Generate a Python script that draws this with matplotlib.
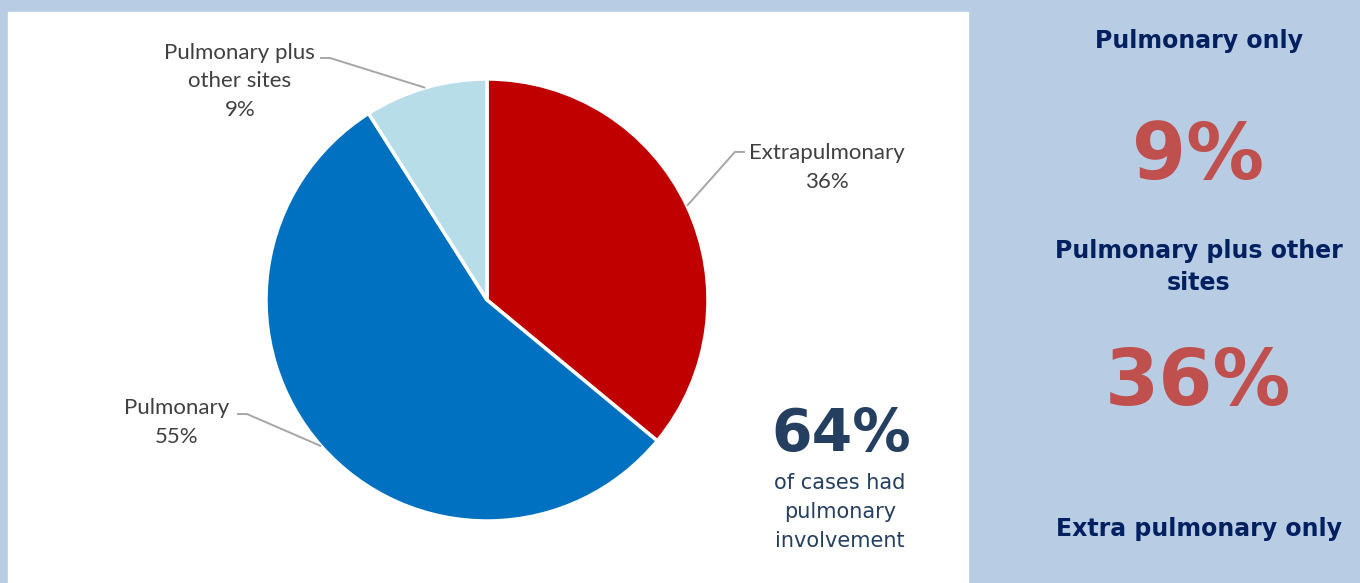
import numpy as np
import matplotlib.pyplot as plt
from matplotlib.patches import Rectangle

# pie data
labels = ["Extrapulmonary", "Pulmonary", "Pulmonary plus\nother sites"]
shares = [36, 55, 9]
colors = ["#C00000", "#0070C0", "#B7DDE8"]

# side panel texts
side_titles = ["Pulmonary only", "Pulmonary plus other\nsites", "Extra pulmonary only"]
side_values = ["9%", "36%"]
headline = "64%"
headline_note = "of cases had\npulmonary\ninvolvement"

W, H = 1360, 583
fig = plt.figure(figsize=(W / 100, H / 100), dpi=100)
fig.patch.set_facecolor("#B8CCE4")

# pixel-coordinate overlay for backgrounds and free text
bg = fig.add_axes([0, 0, 1, 1])
bg.set_xlim(0, W)
bg.set_ylim(H, 0)
bg.axis("off")
bg.add_patch(Rectangle((8, 12), 960, H - 12, color="white", zorder=0))

# PIE
ax = fig.add_axes([266 / W, (H - 521) / H, 442 / W, 442 / H])
wedges, _ = ax.pie(shares, colors=colors, startangle=90, counterclock=False,
                   radius=1, wedgeprops=dict(edgecolor="white", linewidth=2.5))
ax.set_xlim(-1, 1)
ax.set_ylim(-1, 1)

# label layout (axes units, radius = 1)
elbows = [(1.122, 0.670), (-1.086, -0.516), (-0.710, 1.095)]
text_pos = [(1.538, 0.600), (-1.403, -0.556), (-1.118, 0.989)]

for w, lab, s, el, tp in zip(wedges, labels, shares, elbows, text_pos):
    mid = np.deg2rad((w.theta1 + w.theta2) / 2)
    px, py = np.cos(mid), np.sin(mid)
    end_x = el[0] + 0.045 * np.sign(el[0])
    ax.plot([px, el[0], end_x], [py, el[1], el[1]], color="#A6A6A6",
            lw=1.4, clip_on=False, solid_capstyle="butt")
    ax.text(tp[0], tp[1], f"{lab}\n{s}%", ha="center", va="center",
            fontsize=16, color="#404040", family="Lato",
            linespacing=1.55, clip_on=False)

# headline in white panel
bg.text(841, 435, headline, ha="center", va="center", fontsize=42,
        fontweight="bold", color="#243F60", family="DejaVu Sans")
bg.text(840, 512, headline_note, ha="center", va="center", fontsize=15,
        color="#243F60", family="DejaVu Sans", linespacing=1.58)

# right panel
title_y = [41, 267, 529]
for t, y in zip(side_titles, title_y):
    bg.text(1199, y, t, ha="center", va="center", fontsize=17,
            fontweight="bold", color="#002060", family="DejaVu Sans",
            linespacing=1.45)

value_y = [157, 383]
for v, y in zip(side_values, value_y):
    bg.text(1198, y, v, ha="center", va="center", fontsize=56,
            fontweight="bold", color="#C0504D", family="DejaVu Sans")

fig.savefig("out.png", dpi=100, facecolor=fig.get_facecolor())
